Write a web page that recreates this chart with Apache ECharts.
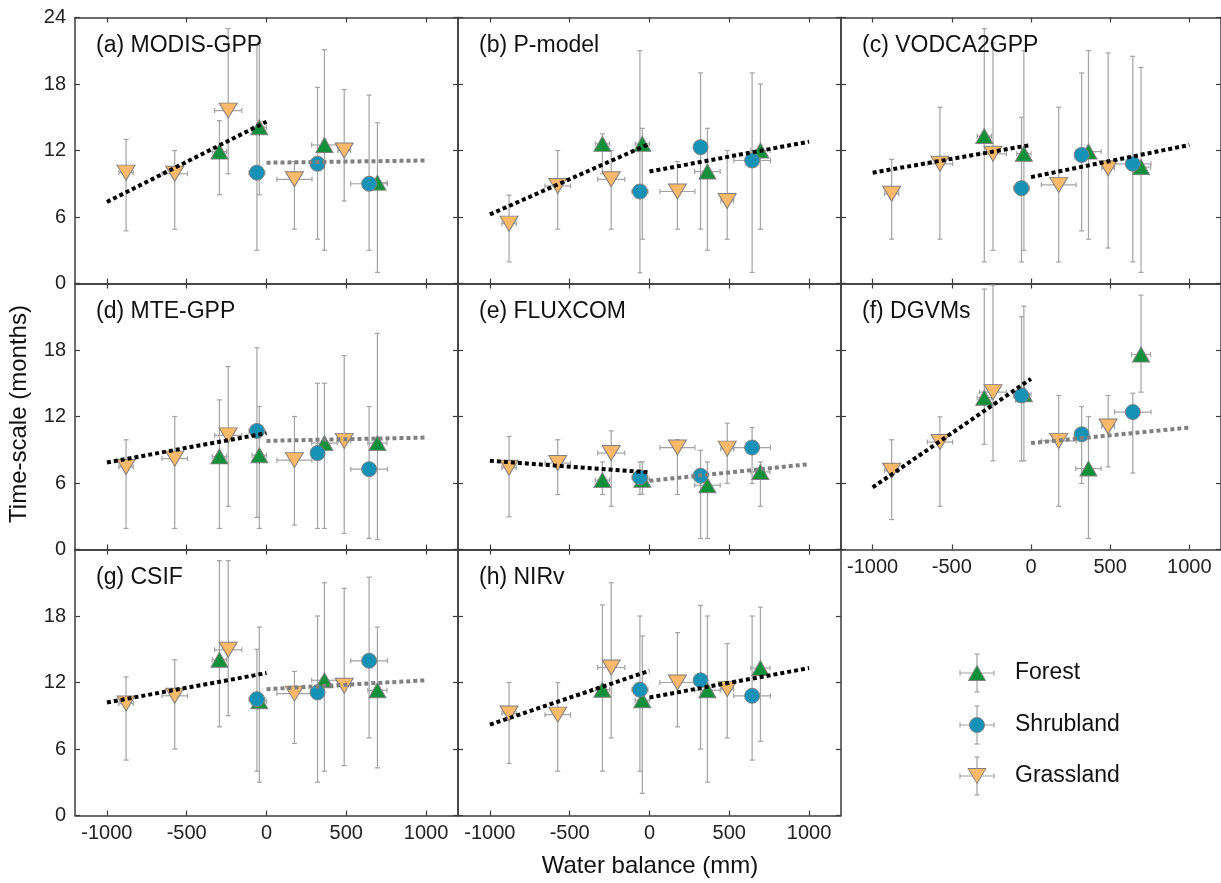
<!DOCTYPE html>
<html>
<head>
<meta charset="utf-8">
<script src="https://cdn.jsdelivr.net/npm/echarts@6/dist/echarts.min.js"></script>
<style>
  html, body { margin: 0; padding: 0; background: #fff; }
  #chart { width: 1221px; height: 883px; }
</style>
</head>
<body>
<div id="chart"></div>
<script>
// panel names
const panelNames = ['(a) MODIS-GPP', '(b) P-model', '(c) VODCA2GPP', '(d) MTE-GPP',
  '(e) FLUXCOM', '(f) DGVMs', '(g) CSIF', '(h) NIRv'];
const xTicks = [-1000, -500, 0, 500, 1000];

// water balance bins (mm) and their spread, shared by all panels
const forestX = [-295, -45, 363, 695];
const forestXErr = [45, 45, 80, 60];
const shrubX = [-60, 320, 643];
const shrubXErr = [50, 40, 115];
const grassX = [-880, -575, -240, 175, 487];
const grassXErr = [45, 80, 85, 110, 40];

// time-scale (months), one row per panel
const forestY = [
  [11.9, 14.1, 12.5, 9.1], [12.6, 12.6, 10.1, 12.0], [13.3, 11.7, 11.9, 10.5], [8.4, 8.5, 9.6, 9.6],
  [6.26, 6.3, 5.8, 7.0], [13.7, 14.0, 7.3, 17.6], [14.05, 10.3, 12.2, 11.3], [11.35, 10.4, 11.3, 13.3]
];
const forestLo = [
  [8.0, 8.0, 3.0, 1.0], [9.9, 4.0, 3.0, 4.9], [1.95, 3.0, 4.0, 1.0], [1.9, 1.9, 1.9, 0.9],
  [4.96, 5.0, 1.0, 3.9], [9.5, 8.0, 1.0, 14.2], [8.0, 3.0, 4.0, 4.3], [4.0, 2.0, 3.0, 6.7]
];
const forestHi = [
  [14.7, 21.7, 21.1, 14.5], [13.5, 14.0, 14.0, 18.0], [23.0, 21.0, 21.0, 19.5], [13.5, 12.9, 15.0, 19.5],
  [7.9, 7.9, 7.9, 7.9], [23.5, 21.96, 12.0, 22.95], [23.0, 17.0, 21.0, 17.0], [19.0, 16.2, 18.0, 18.8]
];

const shrubY = [
  [10.0, 10.8, 9.0], [8.3, 12.3, 11.1], [8.6, 11.6, 10.8], [10.7, 8.7, 7.25],
  [6.5, 6.65, 9.2], [13.9, 10.4, 12.4], [10.5, 11.1, 13.96], [11.35, 12.2, 10.8]
];
const shrubLo = [
  [3.0, 4.0, 3.0], [0.96, 4.9, 1.0], [1.95, 4.75, 1.95], [2.9, 1.9, 1.0],
  [4.96, 1.0, 5.96], [8.0, 5.96, 6.9], [4.0, 3.0, 7.0], [4.0, 6.0, 5.0]
];
const shrubHi = [
  [21.5, 17.7, 17.0], [21.0, 19.0, 19.0], [15.0, 19.0, 20.5], [18.2, 15.0, 12.9],
  [7.9, 8.95, 11.0], [21.0, 12.9, 14.1], [15.0, 18.0, 21.5], [18.0, 18.96, 18.0]
];

const grassY = [
  [10.0, 9.9, 15.6, 9.4, 12.0], [5.4, 8.8, 9.4, 8.3, 7.45], [8.1, 10.8, 11.7, 8.9, 10.4], [7.45, 8.2, 10.3, 8.06, 9.8],
  [7.37, 7.8, 8.7, 9.2, 9.1], [7.1, 9.7, 14.2, 9.8, 11.1], [10.1, 10.8, 14.95, 11.0, 11.7], [9.2, 9.1, 13.35, 12.0, 11.4]
];
const grassLo = [
  [4.75, 4.9, 9.9, 4.9, 7.45], [1.95, 4.9, 4.9, 4.9, 4.0], [4.0, 4.0, 3.0, 1.95, 3.2], [1.9, 1.9, 3.9, 2.2, 1.45],
  [2.95, 4.96, 3.9, 4.96, 5.96], [2.7, 3.9, 8.0, 3.9, 7.45], [5.0, 6.0, 9.0, 6.5, 4.5], [4.7, 4.0, 7.0, 8.0, 7.0]
];
const grassHi = [
  [13.0, 12.0, 23.0, 11.0, 17.5], [7.97, 12.0, 12.0, 11.0, 12.0], [11.2, 15.9, 21.7, 15.9, 20.8], [9.9, 12.0, 16.5, 12.0, 17.5],
  [10.2, 9.9, 10.7, 9.9, 11.4], [9.9, 11.97, 23.85, 13.9, 13.9], [12.5, 14.05, 23.0, 13.0, 20.5], [12.0, 12.0, 21.0, 16.5, 15.5]
];

// linear fits: dry side (x -1000..0) and wet side (x 0..1000)
const fitDry = [[7.36, 14.6], [6.23, 12.6], [10.0, 12.5], [7.85, 10.5], [8.0, 6.96], [5.6, 15.4], [10.2, 12.85], [8.2, 13.06]];
const fitWet = [[10.9, 11.1], [10.1, 12.8], [9.6, 12.5], [9.8, 10.1], [6.2, 7.7], [9.6, 11.0], [11.4, 12.2], [10.65, 13.3]];
const wetSig = [false, true, true, false, false, false, false, true];

const FONT = '"Liberation Sans", Arial, sans-serif';
const cForest = '#10903a', cShrub = '#1592b5', cGrass = '#fdb96a';
const cEdge = '#7f7f7f', cErr = '#a3a3a3', cAxis = '#3c3c3c';

const colLeft = [75, 458, 841];
const rowTop = [17.5, 283.5, 549.5];
const W = 383, H = 266;

const chart = echarts.init(document.getElementById('chart'));

function errItem(xs, xe, ys, lo, hi) {
  return xs.map((x, k) => [x, ys[k], x - xe[k], x + xe[k], lo[k], hi[k]]);
}

function renderErr(params, api) {
  const x = api.value(0), y = api.value(1);
  const lo = api.coord([x, api.value(4)]), hi = api.coord([x, api.value(5)]);
  const l = api.coord([api.value(2), y]), r = api.coord([api.value(3), y]);
  const cap = 2.5;
  const style = { stroke: cErr, lineWidth: 1.2 };
  const seg = (x1, y1, x2, y2) => ({ type: 'line', shape: { x1, y1, x2, y2 }, style });
  return {
    type: 'group',
    children: [
      seg(lo[0], lo[1], hi[0], hi[1]),
      seg(lo[0] - cap, lo[1], lo[0] + cap, lo[1]),
      seg(hi[0] - cap, hi[1], hi[0] + cap, hi[1]),
      seg(l[0], l[1], r[0], r[1]),
      seg(l[0], l[1] - cap, l[0], l[1] + cap),
      seg(r[0], r[1] - cap, r[0], r[1] + cap)
    ]
  };
}

const grids = [], xAxes = [], yAxes = [], series = [], titles = [];
const axisLine = { show: true, onZero: false, lineStyle: { color: cAxis, width: 1.5 } };
const axisTick = { show: true, inside: true, length: 5, lineStyle: { color: cAxis, width: 1.2 } };

panelNames.forEach((name, i) => {
  const col = i % 3, row = Math.floor(i / 3);
  grids.push({ left: colLeft[col], top: rowTop[row], width: W, height: H, show: false });
  titles.push({
    text: name, left: colLeft[col] + 16, top: rowTop[row] + 12,
    textStyle: { fontFamily: FONT, fontSize: 23, fontWeight: 'normal', color: '#111' }
  });
  const showX = i >= 5;
  xAxes.push({
    gridIndex: i, type: 'value', min: -1200, max: 1200, position: 'bottom',
    axisLine, splitLine: { show: false },
    axisTick: Object.assign({ customValues: xTicks }, axisTick),
    axisLabel: { show: showX, customValues: xTicks, fontFamily: FONT, fontSize: 20, color: '#222', margin: 8,
      formatter: v => String(v) }
  });
  xAxes.push({
    gridIndex: i, type: 'value', min: -1200, max: 1200, position: 'top',
    axisLine, splitLine: { show: false },
    axisTick: Object.assign({ customValues: xTicks }, axisTick),
    axisLabel: { show: false }
  });
  yAxes.push({
    gridIndex: i, type: 'value', min: 0, max: 24, interval: 6, position: 'left',
    axisLine, axisTick, splitLine: { show: false },
    axisLabel: {
      show: col === 0, fontFamily: FONT, fontSize: 20, color: '#222', margin: 9,
      formatter: v => (row > 0 && v === 24) ? '' : String(v)
    }
  });
  yAxes.push({
    gridIndex: i, type: 'value', min: 0, max: 24, interval: 6, position: 'right',
    axisLine, axisTick, splitLine: { show: false }, axisLabel: { show: false }
  });

  const xi = 2 * i, yi = 2 * i;
  const errData = []
    .concat(errItem(forestX, forestXErr, forestY[i], forestLo[i], forestHi[i]))
    .concat(errItem(shrubX, shrubXErr, shrubY[i], shrubLo[i], shrubHi[i]))
    .concat(errItem(grassX, grassXErr, grassY[i], grassLo[i], grassHi[i]));
  series.push({
    type: 'custom', xAxisIndex: xi, yAxisIndex: yi, renderItem: renderErr,
    data: errData, encode: { x: 0, y: 1 }, z: 1, silent: true
  });
  const pts = (xs, ys) => xs.map((x, k) => [x, ys[k]]);
  series.push({
    name: 'Forest', type: 'scatter', xAxisIndex: xi, yAxisIndex: yi, z: 3,
    symbol: 'triangle', symbolSize: [17, 15], data: pts(forestX, forestY[i]),
    itemStyle: { color: cForest, borderColor: cEdge, borderWidth: 1, opacity: 1 }
  });
  series.push({
    name: 'Shrubland', type: 'scatter', xAxisIndex: xi, yAxisIndex: yi, z: 3,
    symbol: 'circle', symbolSize: 15, data: pts(shrubX, shrubY[i]),
    itemStyle: { color: cShrub, borderColor: cEdge, borderWidth: 1, opacity: 1 }
  });
  series.push({
    name: 'Grassland', type: 'scatter', xAxisIndex: xi, yAxisIndex: yi, z: 3,
    symbol: 'triangle', symbolRotate: 180, symbolSize: [18, 15], data: pts(grassX, grassY[i]),
    itemStyle: { color: cGrass, borderColor: cEdge, borderWidth: 1, opacity: 1 }
  });
  series.push({
    type: 'line', xAxisIndex: xi, yAxisIndex: yi, z: 5, silent: true, symbol: 'none',
    data: [[-1000, fitDry[i][0]], [0, fitDry[i][1]]],
    lineStyle: { color: '#000', width: 4, type: [4, 3] }
  });
  series.push({
    type: 'line', xAxisIndex: xi, yAxisIndex: yi, z: 5, silent: true, symbol: 'none',
    data: [[0, fitWet[i][0]], [1000, fitWet[i][1]]],
    lineStyle: { color: wetSig[i] ? '#000' : '#808080', width: 4, type: [4, 3] }
  });
});

// legend drawn as graphic (marker with error cross)
const legendItems = [
  { name: 'Forest', color: cForest, shape: 'up', y: 673 },
  { name: 'Shrubland', color: cShrub, shape: 'circle', y: 725 },
  { name: 'Grassland', color: cGrass, shape: 'down', y: 776 }
];
const legendGraphics = legendItems.map(it => {
  const cx = 977, cy = it.y;
  const ln = (x1, y1, x2, y2) => ({ type: 'line', shape: { x1, y1, x2, y2 }, style: { stroke: cErr, lineWidth: 1.2 } });
  let marker;
  if (it.shape === 'circle') {
    marker = { type: 'circle', shape: { cx, cy, r: 7.5 }, style: { fill: it.color, stroke: cEdge, lineWidth: 1 } };
  } else if (it.shape === 'up') {
    marker = { type: 'polygon', shape: { points: [[cx, cy - 7.5], [cx - 8.5, cy + 7.5], [cx + 8.5, cy + 7.5]] }, style: { fill: it.color, stroke: cEdge, lineWidth: 1 } };
  } else {
    marker = { type: 'polygon', shape: { points: [[cx, cy + 7.5], [cx - 9, cy - 7.5], [cx + 9, cy - 7.5]] }, style: { fill: it.color, stroke: cEdge, lineWidth: 1 } };
  }
  return {
    type: 'group',
    children: [
      ln(cx - 17, cy, cx + 17, cy), ln(cx - 17, cy - 2.5, cx - 17, cy + 2.5), ln(cx + 17, cy - 2.5, cx + 17, cy + 2.5),
      ln(cx, cy - 19, cx, cy + 19), ln(cx - 2.5, cy - 19, cx + 2.5, cy - 19), ln(cx - 2.5, cy + 19, cx + 2.5, cy + 19),
      marker,
      { type: 'text', style: { x: 1015, y: cy, text: it.name, font: '23px ' + FONT, fill: '#111', textVerticalAlign: 'middle' } }
    ]
  };
});

const option = {
  animation: false,
  title: titles,
  grid: grids,
  xAxis: xAxes,
  yAxis: yAxes,
  series: series,
  graphic: [
    { type: 'text', x: 19, y: 414, rotation: Math.PI / 2,
      style: { text: 'Time-scale (months)', font: '24px ' + FONT, fill: '#111', align: 'center', verticalAlign: 'middle' } },
    { type: 'text', x: 650, y: 866,
      style: { text: 'Water balance (mm)', font: '24px ' + FONT, fill: '#111', align: 'center', verticalAlign: 'middle' } }
  ].concat(legendGraphics)
};

chart.setOption(option);
</script>
</body>
</html>
